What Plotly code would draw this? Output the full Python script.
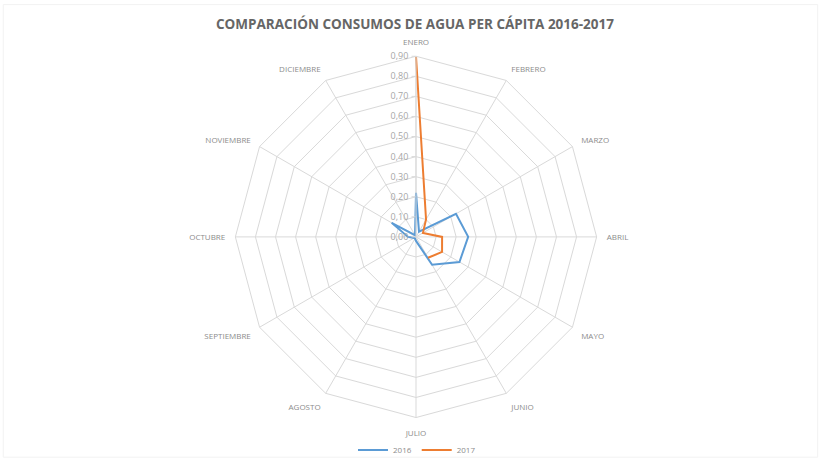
import plotly.graph_objects as go

months = ["ENERO", "FEBRERO", "MARZO", "ABRIL", "MAYO", "JUNIO",
          "JULIO", "AGOSTO", "SEPTIEMBRE", "OCTUBRE", "NOVIEMBRE", "DICIEMBRE"]
values_2016 = [0.22, 0.03, 0.23, 0.26, 0.25, 0.16, 0.02, 0.01, 0.01, 0.04, 0.14, 0.01]
values_2017 = [0.90, 0.10, 0.04, 0.13, 0.15, 0.12, None, None, None, None, None, None]
tick_vals = [0.0, 0.1, 0.2, 0.3, 0.4, 0.5, 0.6, 0.7, 0.8, 0.9]
tick_text = ["0,00", "0,10", "0,20", "0,30", "0,40", "0,50", "0,60", "0,70", "0,80", "0,90"]

fig = go.Figure()
fig.add_trace(go.Scatterpolar(
    r=values_2016 + [values_2016[0]], theta=months + [months[0]],
    mode="lines", name="2016",
    line=dict(color="#5B9BD5", width=2),
))
fig.add_trace(go.Scatterpolar(
    r=values_2017, theta=months,
    mode="lines", name="2017",
    line=dict(color="#ED7D31", width=2),
    connectgaps=False,
))

cx, cy, R = 416, 240, 183
W, H = 821, 465
fig.update_layout(
    width=W, height=H,
    paper_bgcolor="white", plot_bgcolor="white",
    margin=dict(l=0, r=0, t=0, b=0),
    font=dict(family="Open Sans, Liberation Sans, sans-serif", color="#8c8c8c", size=9),
    title=dict(
        text="<b>COMPARACIÓN CONSUMOS DE AGUA PER CÁPITA 2016-2017</b>",
        x=415 / W, xanchor="center", y=1 - 24 / H, yanchor="middle",
        font=dict(size=13.5, color="#666666", family="Open Sans, Liberation Sans, sans-serif"),
    ),
    polar=dict(
        domain=dict(x=[(cx - R) / W, (cx + R) / W], y=[1 - (cy + R) / H, 1 - (cy - R) / H]),
        bgcolor="white",
        gridshape="linear",
        angularaxis=dict(
            rotation=90, direction="clockwise",
            categoryorder="array", categoryarray=months,
            showline=True, linecolor="#d9d9d9", linewidth=1,
            gridcolor="#d9d9d9", gridwidth=1,
            ticks="outside", ticklen=8, tickcolor="rgba(0,0,0,0)",
            tickfont=dict(size=8, color="#8c8c8c"),
        ),
        radialaxis=dict(
            range=[0, 0.9], angle=90, tickangle=90, side="counterclockwise",
            tickvals=tick_vals, ticktext=tick_text,
            showline=True, linecolor="#d9d9d9", linewidth=1,
            gridcolor="#d9d9d9", gridwidth=1,
            ticks="outside", ticklen=4, tickcolor="#d9d9d9",
            tickfont=dict(size=9, color="#a6a6a6"),
        ),
    ),
    legend=dict(
        orientation="h", x=417 / W, xanchor="center", y=1 - 456 / H, yanchor="middle",
        bgcolor="rgba(0,0,0,0)",
        font=dict(size=8, color="#8c8c8c"), itemwidth=30,
    ),
    shapes=[dict(type="rect", xref="paper", yref="paper", x0=0.004, x1=0.996, y0=0.004, y1=0.99,
                 line=dict(color="#f2f2f2", width=1))],
)

fig.write_html("out.html", config={"displayModeBar": False},
               post_script="document.body.style.margin='0';")
